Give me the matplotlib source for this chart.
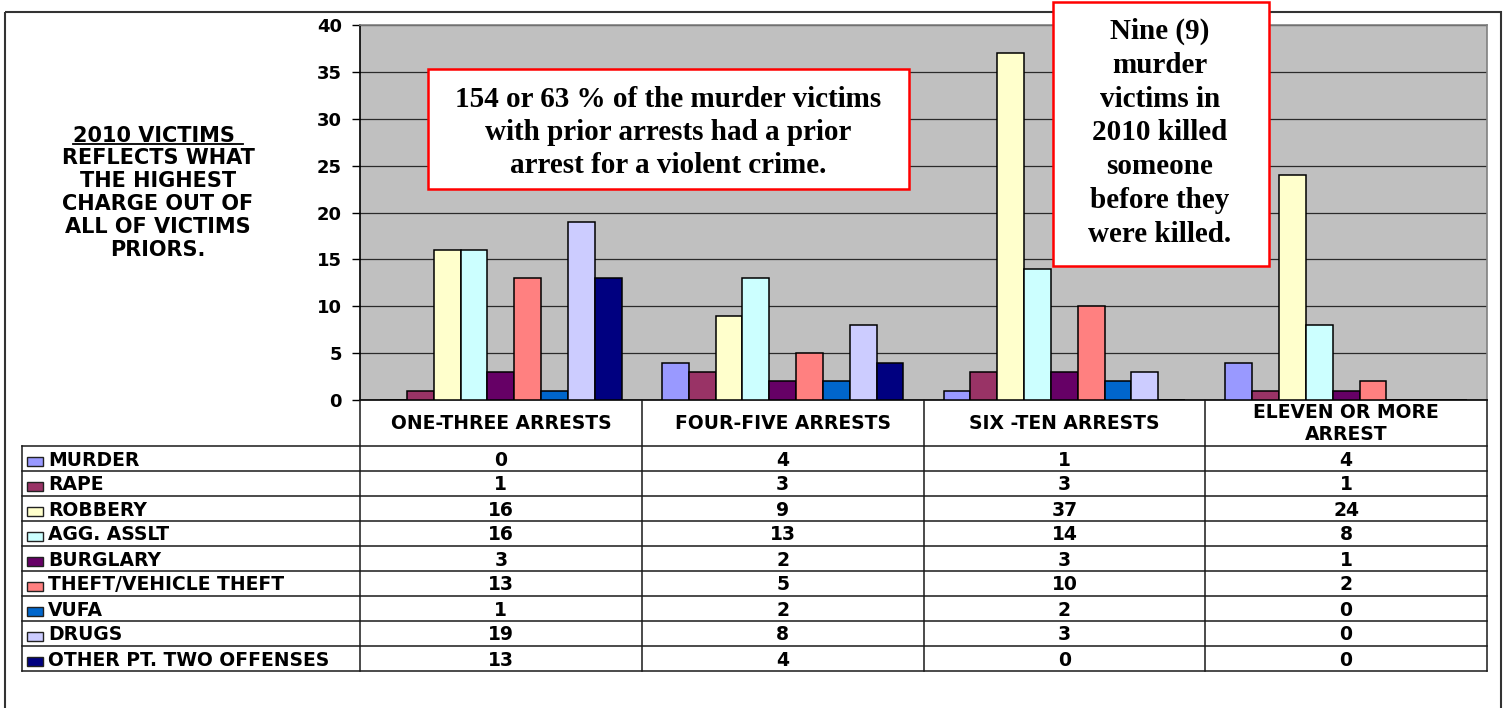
import matplotlib
matplotlib.use("Agg")
import matplotlib.pyplot as plt
from matplotlib.patches import Rectangle
from matplotlib.lines import Line2D
import numpy as np

# ---- data -------------------------------------------------------------
categories = ["ONE-THREE ARRESTS", "FOUR-FIVE ARRESTS", "SIX -TEN ARRESTS",
              "ELEVEN OR MORE\nARREST"]

murder = [0, 4, 1, 4]
rape = [1, 3, 3, 1]
robbery = [16, 9, 37, 24]
agg_asslt = [16, 13, 14, 8]
burglary = [3, 2, 3, 1]
theft_vehicle = [13, 5, 10, 2]
vufa = [1, 2, 2, 0]
drugs = [19, 8, 3, 0]
other_pt_two = [13, 4, 0, 0]

series_names = ["MURDER", "RAPE", "ROBBERY", "AGG. ASSLT", "BURGLARY",
                "THEFT/VEHICLE THEFT", "VUFA", "DRUGS", "OTHER PT. TWO OFFENSES"]
series_values = [murder, rape, robbery, agg_asslt, burglary, theft_vehicle,
                 vufa, drugs, other_pt_two]
series_colors = ["#9999FF", "#993366", "#FFFFCC", "#CCFFFF", "#660066",
                 "#FF8080", "#0066CC", "#CCCCFF", "#000080"]

y_ticks = [0, 5, 10, 15, 20, 25, 30, 35, 40]

side_note = ["2010 VICTIMS ", "REFLECTS WHAT", "THE HIGHEST", "CHARGE OUT OF",
             "ALL OF VICTIMS", "PRIORS."]
box_note_1 = ["154 or 63 % of the murder victims",
              "with prior arrests had a prior",
              "arrest for a violent crime."]
box_note_2 = ["Nine (9)", "murder", "victims in", "2010 killed", "someone",
              "before they", "were killed."]

# ---- layout (pixels) --------------------------------------------------
W, H = 1509, 708
PL, PR, PT, PB = 360, 1487, 25, 400      # plot area
TL = 22                                   # left edge of table label column
HEAD_B = 446                              # bottom of header row
ROW_H = 25

SANS = "DejaVu Sans"
SERIF = "Liberation Serif"
TABLE_FS = 13.5

fig = plt.figure(figsize=(W / 100, H / 100), dpi=100)
fig.patch.set_facecolor("white")

# ---- bar chart --------------------------------------------------------
ax = fig.add_axes([PL / W, (H - PB) / H, (PR - PL) / W, (PB - PT) / H])
ax.set_facecolor("#C0C0C0")
n = len(series_values)
bw = 1.0 / (n + 1.5)
x = np.arange(len(categories))
for i, (vals, col) in enumerate(zip(series_values, series_colors)):
    ax.bar(x + (i - (n - 1) / 2) * bw, vals, width=bw, color=col,
           edgecolor="black", linewidth=1.1, zorder=3)
ax.set_xlim(-0.5, len(categories) - 0.5)
ax.set_ylim(0, 40)
ax.set_yticks(y_ticks)
ax.set_yticklabels([str(t) for t in y_ticks], fontsize=13, fontweight="bold",
                   family=SANS)
ax.set_xticks([])
ax.tick_params(axis="y", direction="out", length=6, width=1, pad=7,
               colors="black")
ax.yaxis.grid(True, color="#2a2a2a", linewidth=0.9, zorder=1)
ax.set_axisbelow(True)
ax.spines["left"].set_color("black")
ax.spines["left"].set_linewidth(1.2)
ax.spines["bottom"].set_color("black")
ax.spines["bottom"].set_linewidth(1.2)
for s in ("top", "right"):
    ax.spines[s].set_color("#808080")
    ax.spines[s].set_linewidth(1.2)

# ---- overlay in pixel coordinates ------------------------------------
ov = fig.add_axes([0, 0, 1, 1], zorder=5)
ov.set_xlim(0, W)
ov.set_ylim(H, 0)
ov.axis("off")
ov.patch.set_alpha(0)

# outer frame
ov.add_patch(Rectangle((5, 12), 1496, 720, fill=False, edgecolor="#333333",
                       linewidth=1.5))

# data table
n_rows = len(series_names)
table_bottom = HEAD_B + n_rows * ROW_H
col_w = (PR - PL) / len(categories)
lc = "#1a1a1a"
ov.add_line(Line2D([TL, PR], [HEAD_B, HEAD_B], color=lc, lw=1.1))
for r in range(1, n_rows + 1):
    y = HEAD_B + r * ROW_H
    ov.add_line(Line2D([TL, PR], [y, y], color=lc, lw=1.1))
ov.add_line(Line2D([TL, TL], [HEAD_B, table_bottom], color=lc, lw=1.1))
for c in range(len(categories) + 1):
    xc = PL + c * col_w
    ov.add_line(Line2D([xc, xc], [PB, table_bottom], color=lc, lw=1.1))

# header cells
for c, cat in enumerate(categories):
    xc = PL + (c + 0.5) * col_w
    lines = cat.split("\n")
    if len(lines) == 1:
        ov.text(xc, 429, lines[0], ha="center", va="baseline",
                fontsize=TABLE_FS, fontweight="bold", family=SANS)
    else:
        for k, ln in enumerate(lines):
            ov.text(xc, 418.5 + k * 21, ln, ha="center", va="baseline",
                    fontsize=TABLE_FS, fontweight="bold", family=SANS)

# series rows with legend keys and values
for r, (name, vals, col) in enumerate(zip(series_names, series_values,
                                          series_colors)):
    top = HEAD_B + r * ROW_H
    ov.add_patch(Rectangle((27, top + 10.5), 16, 9, facecolor=col,
                           edgecolor="#222222", linewidth=1.0))
    ov.text(48, top + 19.5, name, ha="left", va="baseline",
            fontsize=TABLE_FS, fontweight="bold", family=SANS)
    for c, v in enumerate(vals):
        ov.text(PL + (c + 0.5) * col_w, top + 19.5, str(v), ha="center",
                va="baseline", fontsize=TABLE_FS, fontweight="bold",
                family=SANS)

# side note on the left
side_baselines = [141.7, 164.3, 186.7, 210, 233.3, 256]
for k, (ln, yb) in enumerate(zip(side_note, side_baselines)):
    t = ov.text(158, yb, ln, ha="center", va="baseline", fontsize=15,
                fontweight="bold", family=SANS)
    if k == 0:
        fig.canvas.draw()
        bb = t.get_window_extent().transformed(ov.transData.inverted())
        ov.add_line(Line2D([bb.x0, bb.x1], [yb + 2.5, yb + 2.5],
                           color="black", lw=1.3))

# call-out boxes
ov.add_patch(Rectangle((428, 69), 481, 120, facecolor="white",
                       edgecolor="#FF0000", linewidth=1.8))
for k, ln in enumerate(box_note_1):
    ov.text(668.5, 106.7 + k * 33.3, ln, ha="center", va="baseline",
            fontsize=21, fontweight="bold", family=SERIF)

ov.add_patch(Rectangle((1053, 2), 216, 264, facecolor="white",
                       edgecolor="#FF0000", linewidth=1.8))
for k, ln in enumerate(box_note_2):
    ov.text(1160, 39 + k * 33.8, ln, ha="center", va="baseline",
            fontsize=21, fontweight="bold", family=SERIF)

fig.savefig("out.png", dpi=100, facecolor="white")
